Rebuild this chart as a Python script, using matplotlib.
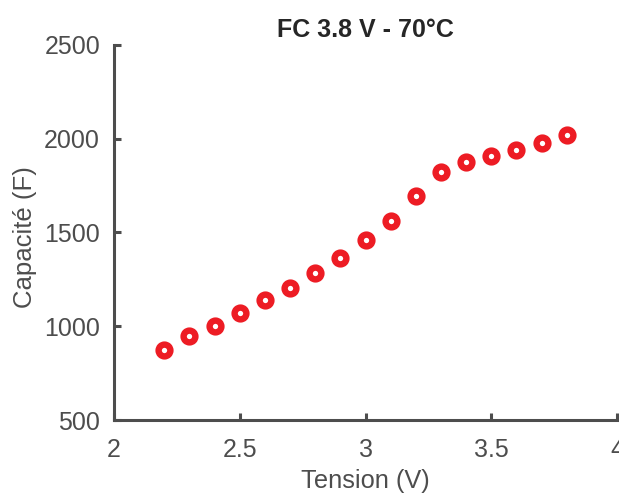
import matplotlib
matplotlib.use('Agg')
import matplotlib.pyplot as plt

# Capacitance vs voltage, FC 3.8 V at 70 degC
tension = [2.2, 2.3, 2.4, 2.5, 2.6, 2.7, 2.8, 2.9, 3.0, 3.1, 3.2, 3.3, 3.4, 3.5, 3.6, 3.7, 3.8]
capacite = [873, 948, 1003, 1071, 1140, 1204, 1284, 1364, 1460, 1561, 1695, 1823, 1876, 1908, 1940, 1977, 2020]

x_ticks = [2, 2.5, 3, 3.5, 4]
x_labels = ['2', '2.5', '3', '3.5', '4']
y_ticks = [500, 1000, 1500, 2000, 2500]

plt.rcParams['font.family'] = ['Liberation Sans', 'DejaVu Sans']
axis_col = '#4d4d4d'

fig = plt.figure(figsize=(6.19, 4.94), dpi=100)
ax = fig.add_axes([114 / 619, 1 - 420 / 494, (617 - 114) / 619, (420 - 45) / 494])

ax.plot(tension, capacite, linestyle='none', marker='o', markersize=8.5,
        markeredgewidth=4.6, markeredgecolor='#ed1c24', markerfacecolor='white')

ax.set_xlim(2, 4)
ax.set_ylim(500, 2500)
ax.set_xticks(x_ticks)
ax.set_xticklabels(x_labels)
ax.set_yticks(y_ticks)

for side in ['top', 'right']:
    ax.spines[side].set_visible(False)
for side in ['left', 'bottom']:
    ax.spines[side].set_color(axis_col)
    ax.spines[side].set_linewidth(2.2)
ax.spines['left'].set_capstyle('projecting')

ax.tick_params(direction='in', length=5, width=2.2, color=axis_col,
               labelcolor=axis_col, labelsize=18, pad=10)
ax.tick_params(axis='x', pad=13)
ax.set_xlabel('Tension (V)', fontsize=18.3, color=axis_col, labelpad=5)
ax.set_ylabel('Capacité (F)', fontsize=18.5, color=axis_col)
ax.yaxis.set_label_coords(-0.153, 0.487)
ax.set_title('FC 3.8 V - 70°C', fontsize=18, fontweight='bold', color='#262626', pad=6)

fig.savefig('out.png', dpi=100)
